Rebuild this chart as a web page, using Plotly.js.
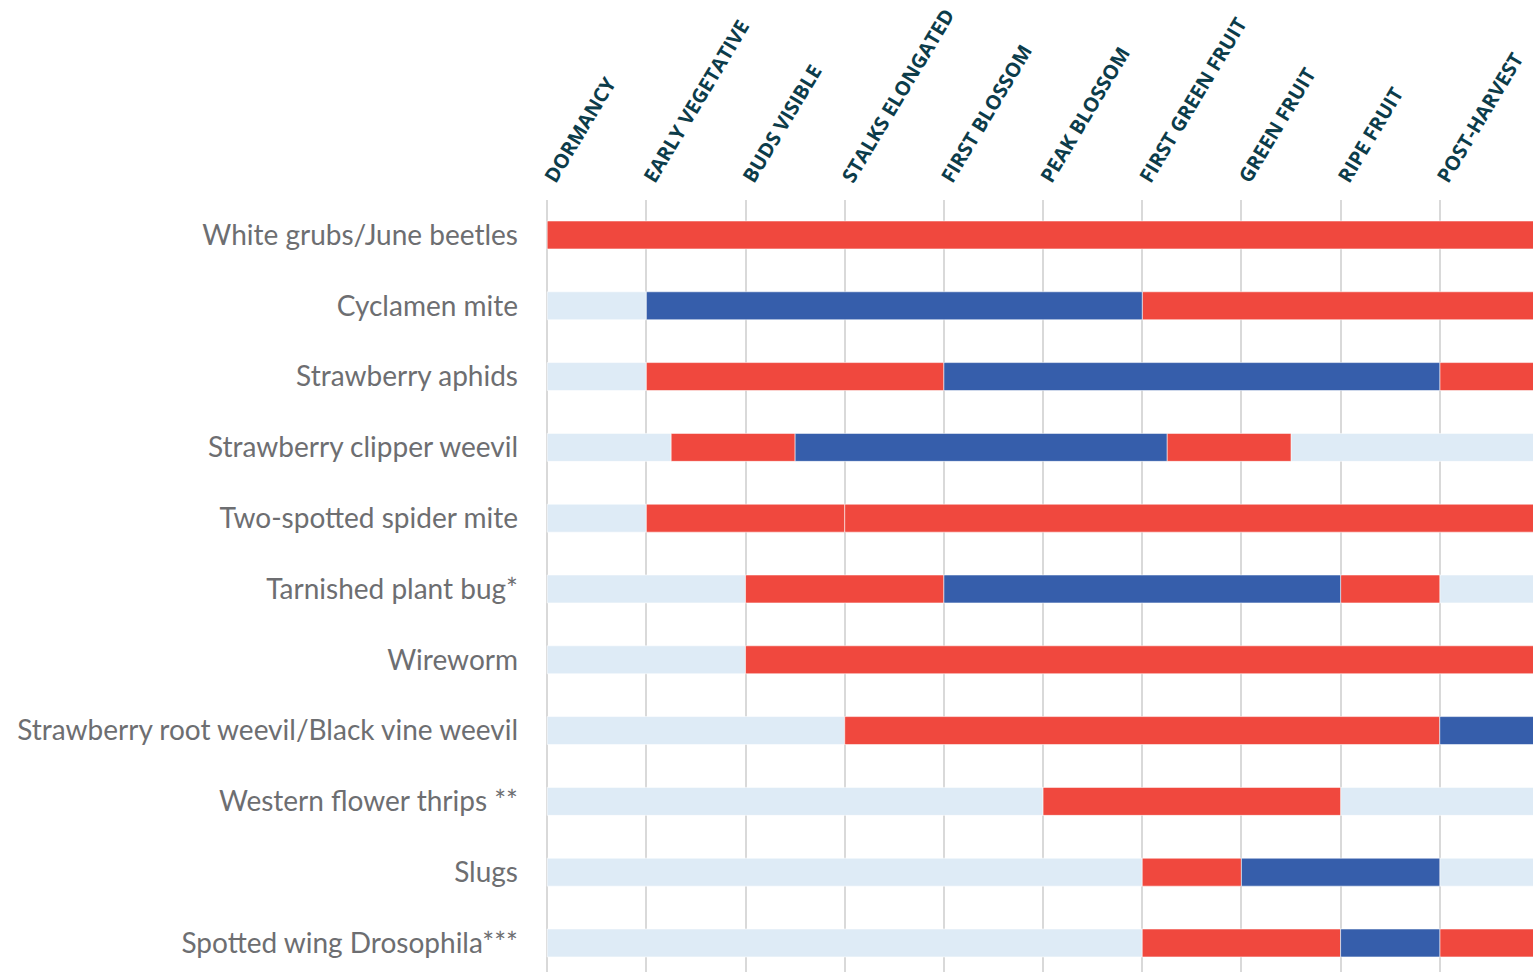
<!DOCTYPE html>
<html>
<head>
<meta charset="utf-8">
<script src="https://cdn.plot.ly/plotly-3.0.1.min.js"></script>
<style>html,body{margin:0;padding:0;background:#fff;}#chart{width:1533px;height:972px;}</style>
</head>
<body>
<div id="chart"></div>
<script>
// Crop growth stages (x axis, top)
const stages = ["DORMANCY","EARLY VEGETATIVE","BUDS VISIBLE","STALKS ELONGATED","FIRST BLOSSOM","PEAK BLOSSOM","FIRST GREEN FRUIT","GREEN FRUIT","RIPE FRUIT","POST-HARVEST"];
// Pests (y axis, top to bottom)
const pests = ["White grubs/June beetles","Cyclamen mite","Strawberry aphids","Strawberry clipper weevil","Two-spotted spider mite","Tarnished plant bug*","Wireworm","Strawberry root weevil/Black vine weevil","Western flower thrips **","Slugs","Spotted wing Drosophila***"];
// Segments per pest: [start stage, end stage, status]  status: 0 = not present, 1 = present (red), 2 = key period (blue)
const END = 10;
const whiteGrubs    = [[0, END, 1]];
const cyclamenMite  = [[0, 1, 0], [1, 6, 2], [6, END, 1]];
const aphids        = [[0, 1, 0], [1, 4, 1], [4, 9, 2], [9, END, 1]];
const clipperWeevil = [[0, 1.25, 0], [1.25, 2.5, 1], [2.5, 6.25, 2], [6.25, 7.5, 1], [7.5, END, 0]];
const spiderMite    = [[0, 1, 0], [1, 3, 1], [3, END, 1]];
const plantBug      = [[0, 2, 0], [2, 4, 1], [4, 8, 2], [8, 9, 1], [9, END, 0]];
const wireworm      = [[0, 2, 0], [2, END, 1]];
const rootWeevil    = [[0, 3, 0], [3, 9, 1], [9, END, 2]];
const thrips        = [[0, 5, 0], [5, 8, 1], [8, END, 0]];
const slugs         = [[0, 6, 0], [6, 7, 1], [7, 9, 2], [9, END, 0]];
const swd           = [[0, 6, 0], [6, 8, 1], [8, 9, 2], [9, END, 1]];
const segments = [whiteGrubs, cyclamenMite, aphids, clipperWeevil, spiderMite, plantBug, wireworm, rootWeevil, thrips, slugs, swd];

const statusColors = ["#deebf6", "#f0483e", "#365eab"];
const statusNames = ["none", "present", "key period"];

const traces = statusColors.map((c, s) => ({
  type: "bar", orientation: "h", name: statusNames[s],
  x: [], y: [], base: [],
  width: 0.395,
  marker: {color: c, line: {color: "rgba(255,255,255,0.55)", width: 1}},
  hoverinfo: "skip", showlegend: false
}));
segments.forEach((row, i) => {
  row.forEach(([a, b, s]) => {
    traces[s].x.push(b - a);
    traces[s].y.push(i);
    traces[s].base.push(a);
  });
});

const layout = {
  width: 1533, height: 972,
  margin: {l: 546, r: 0, t: 200, b: 0, pad: 0},
  paper_bgcolor: "#ffffff", plot_bgcolor: "#ffffff",
  barmode: "overlay",
  showlegend: false,
  xaxis: {
    side: "top", range: [-0.012, 9.94],
    tickmode: "array", tickvals: stages.map((_, i) => i), ticktext: stages,
    tickangle: -59,
    tickfont: {family: "Open Sans", size: 20, color: "#0c3c4a", weight: "bold"},
    showgrid: true, gridcolor: "#d9d9d9", gridwidth: 2,
    zeroline: false, showline: false, ticks: "", ticklabelstandoff: 6
  },
  yaxis: {
    range: [10.41, -0.494],
    tickmode: "array", tickvals: pests.map((_, i) => i), ticktext: pests,
    tickfont: {family: "Lato", size: 28, color: "#6d6e71"},
    showgrid: false, zeroline: false, showline: false, ticks: "",
    ticklabelstandoff: 27
  }
};

Plotly.newPlot("chart", traces, layout, {displayModeBar: false, staticPlot: true});
</script>
</body>
</html>
